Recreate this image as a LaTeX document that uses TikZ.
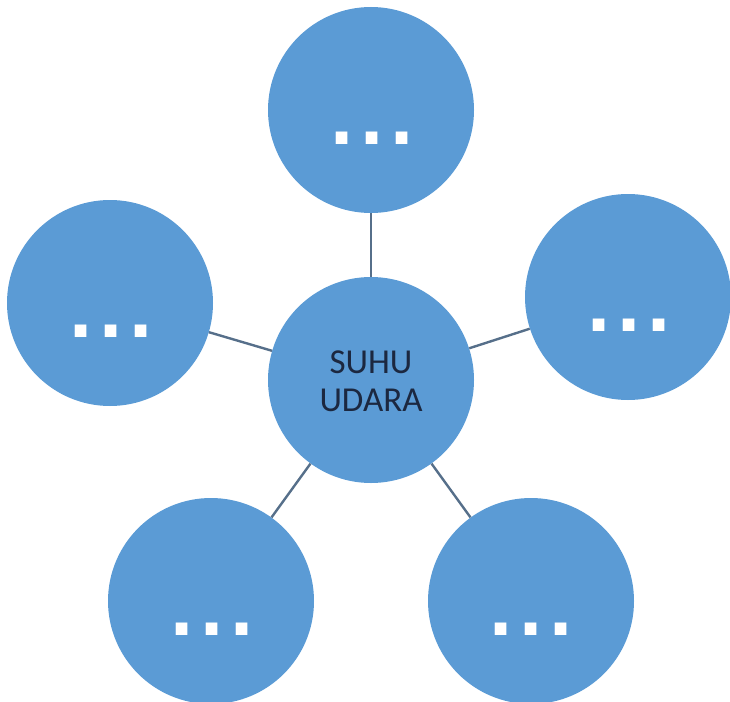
\documentclass[tikz,border=0pt]{standalone}
\usepackage{fontspec}
\setmainfont{Carlito}
\newfontfamily\dotfont{DejaVu Sans}
\definecolor{circfill}{HTML}{5B9BD5}
\definecolor{linkcol}{HTML}{566F8A}
\definecolor{navytext}{HTML}{1C2840}
\newcommand{\threedots}{.\hspace{5pt}.\hspace{5pt}.}
\begin{document}
\begin{tikzpicture}[x=1pt,y=-1pt,
  bubble/.style={circle, fill=circfill, minimum size=206pt, inner sep=0pt},
  link/.style={draw=linkcol, line width=2.4pt},
  dotstext/.style={font=\dotfont\bfseries\fontsize{66}{66}\selectfont, text=white, inner sep=0pt, anchor=center},
  maintext/.style={font=\fontsize{35}{38}\selectfont, text=navytext, align=center}]
\useasboundingbox (0,0) rectangle (730,701);
\node[bubble] (center) at (371,380) {};
\node[bubble] (top) at (371,110) {};
\node[bubble] (left) at (110,303) {};
\node[bubble] (right) at (628,297) {};
\node[bubble] (bl) at (211,601) {};
\node[bubble] (br) at (531,601) {};
\node[maintext] (lbl) at (371,381) {SUHU\\UDARA};
\node[dotstext] (dtop) at (372,138) {\threedots};
\node[dotstext] (dleft) at (111,331) {\threedots};
\node[dotstext] (dright) at (629,325) {\threedots};
\node[dotstext] (dbl) at (212,629) {\threedots};
\node[dotstext] (dbr) at (531,629) {\threedots};
\draw[link] (center) -- (top);
\draw[link] (center) -- (left);
\draw[link] (center) -- (right);
\draw[link] (center) -- (bl);
\draw[link] (center) -- (br);
\end{tikzpicture}
\end{document}
